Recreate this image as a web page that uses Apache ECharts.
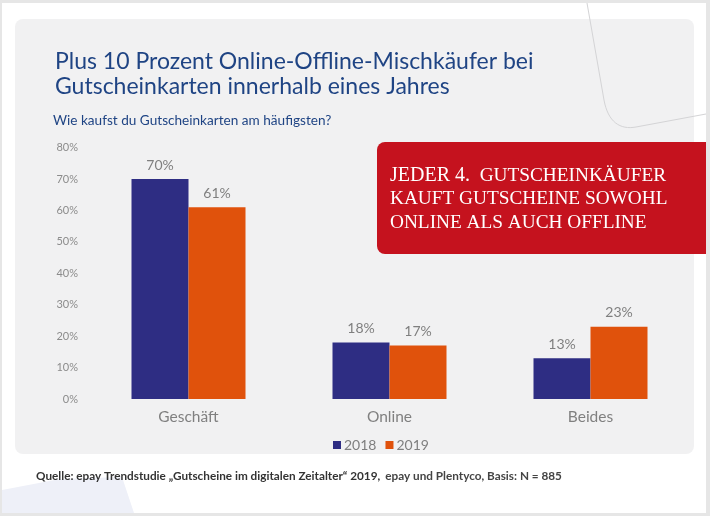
<!DOCTYPE html>
<html>
<head>
<meta charset="utf-8">
<style>html,body{margin:0;padding:0;background:#fff}#chart{width:710px;height:516px}</style>
<script src="https://cdn.jsdelivr.net/npm/echarts@6/dist/echarts.min.js"></script>
</head>
<body>
<div id="chart"></div>
<script>
const categories = ['Geschäft', 'Online', 'Beides']
const values2018 = [70, 18, 13]
const values2019 = [61, 17, 23]
const seriesNames = ['2018', '2019']

const font = 'Lato'
const chart = echarts.init(document.getElementById('chart'), null, { renderer: 'canvas' })
const curveStyle = { fill: null, stroke: '#d4d4d6', lineWidth: 1 }

const option = {
    animation: false,
    backgroundColor: '#e6e6e6',
    title: [
        {
            text: 'Plus 10 Prozent Online-Offline-Mischkäufer bei\nGutscheinkarten innerhalb eines Jahres',
            left: 55, top: 49, padding: 0,
            textStyle: { fontFamily: font, fontWeight: 'normal', fontSize: 23, lineHeight: 25, color: '#1f4484' }
        },
        {
            text: 'Wie kaufst du Gutscheinkarten am häufigsten?',
            left: 53, top: 114, padding: 0,
            textStyle: { fontFamily: font, fontWeight: 'normal', fontSize: 13.6, color: '#1f4484' }
        },
        {
            text: '{b|Quelle: epay Trendstudie „Gutscheine im digitalen Zeitalter“ 2019,} {n|epay und Plentyco, Basis: N = 885}',
            left: 36, top: 467, padding: 0,
            textStyle: {
                rich: {
                    b: { fontFamily: font, fontWeight: 'bold', fontSize: 11.75, color: '#333' },
                    n: { fontFamily: font, fontSize: 11.75, color: '#444' }
                }
            }
        }
    ],
    legend: {
        data: seriesNames,
        left: 333, top: 438, padding: 0,
        itemWidth: 8, itemHeight: 8, itemGap: 9,
        icon: 'rect',
        textStyle: { fontFamily: font, fontSize: 14, color: '#7f7f7f', padding: [0, 0, 0, -2] }
    },
    grid: { left: 88, right: 19, top: 147.6, bottom: 117 },
    xAxis: {
        type: 'category',
        data: categories,
        axisLine: { show: false },
        axisTick: { show: false },
        axisLabel: { margin: 10, fontFamily: font, fontSize: 15.5, color: '#808080' }
    },
    yAxis: {
        type: 'value',
        min: 0, max: 80, interval: 10,
        splitLine: { show: false },
        axisLine: { show: false },
        axisTick: { show: false },
        axisLabel: { margin: 10, padding: [0, 0, 2, 0], fontFamily: font, fontSize: 11, color: '#8c8c8c', formatter: '{value}%' }
    },
    series: [
        {
            name: seriesNames[0], type: 'bar', data: values2018,
            barWidth: 57, barGap: 0, itemStyle: { color: '#2e2d83' },
            label: { show: true, position: 'top', distance: 7, formatter: '{c}%', fontFamily: font, fontSize: 14, color: '#7f7f7f' }
        },
        {
            name: seriesNames[1], type: 'bar', data: values2019,
            barWidth: 57, barGap: 0, itemStyle: { color: '#e0520c' },
            label: { show: true, position: 'top', distance: 7, formatter: '{c}%', fontFamily: font, fontSize: 14, color: '#7f7f7f' }
        }
    ],
    graphic: [
        // Folie und graue Fläche liegen hinter dem Diagramm
        { type: 'rect', z: -10, shape: { x: 2, y: 3, width: 704, height: 510 }, style: { fill: '#fff' } },
        { type: 'polygon', z: -9, shape: { points: [[2, 490], [60, 479], [122, 477], [134, 513], [2, 513]] }, style: { fill: '#eef0f8' } },
        { type: 'rect', z: -8, shape: { x: 15, y: 19, width: 679, height: 435, r: 8 }, style: { fill: '#f1f1f2' } },
        { type: 'line', z: -7, shape: { x1: 587, y1: 3, x2: 604, y2: 100 }, style: curveStyle },
        { type: 'bezierCurve', z: -7, shape: { x1: 604, y1: 100, cpx1: 608, cpy1: 122, cpx2: 620, cpy2: 130, x2: 636, y2: 127 }, style: curveStyle },
        { type: 'line', z: -7, shape: { x1: 636, y1: 127, x2: 706, y2: 114 }, style: curveStyle },
        { type: 'rect', z: 10, shape: { x: 377, y: 142, width: 329, height: 112, r: [8, 0, 0, 8] }, style: { fill: '#c5121e' } },
        {
            type: 'text', z: 11, x: 390, y: 164,
            style: {
                text: '{a|JEDER 4.}{b|  GUTSCHEINKÄUFER}\n{b|KAUFT GUTSCHEINE SOWOHL}\n{b|ONLINE ALS AUCH OFFLINE}',
                rich: {
                    a: { fontFamily: 'Liberation Serif', fontSize: 20, lineHeight: 23.5, fill: '#fff' },
                    b: { fontFamily: 'Liberation Serif', fontSize: 19.3, lineHeight: 23.5, fill: '#fff' }
                }
            }
        }
    ]
}
chart.setOption(option)
</script>
</body>
</html>
